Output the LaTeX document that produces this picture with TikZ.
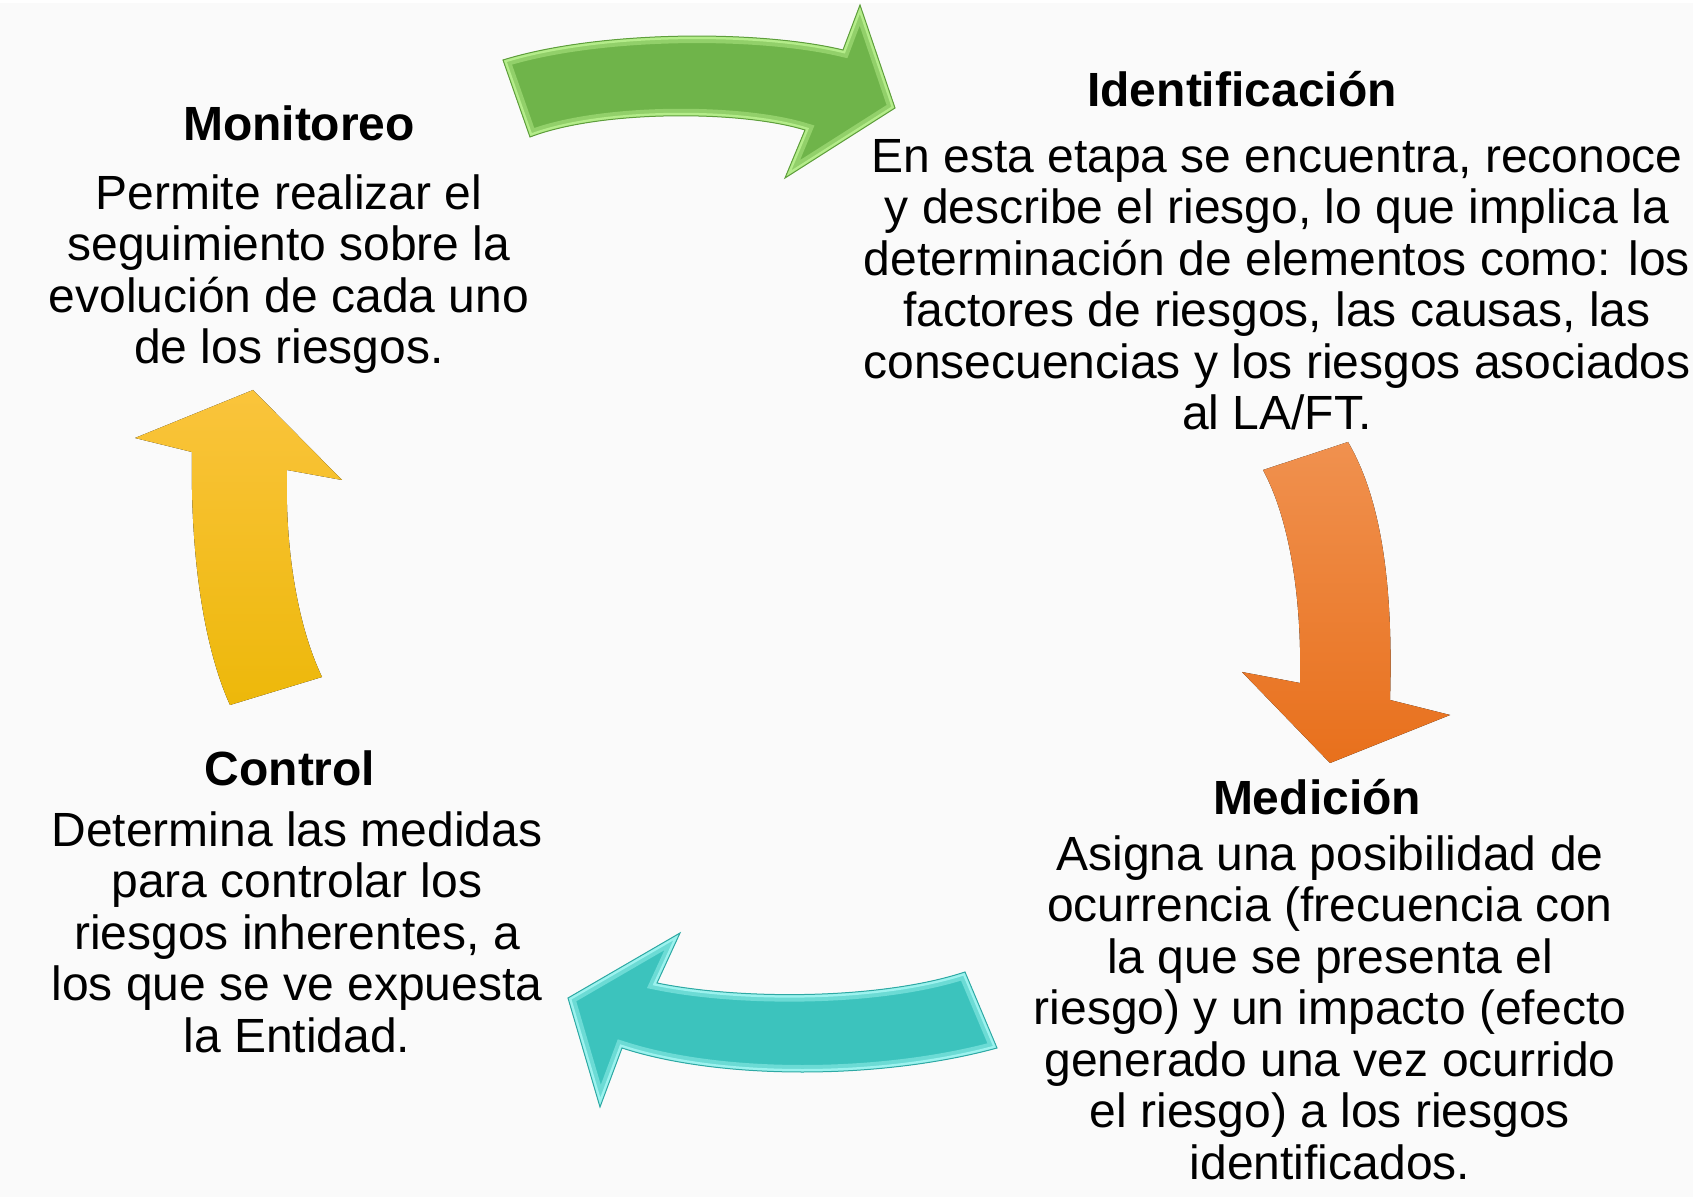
\documentclass[tikz,border=0pt]{standalone}
\usepackage{fontspec}
\setmainfont{Liberation Sans}
\usetikzlibrary{positioning}

\definecolor{paper}{HTML}{FAFAFA}
\definecolor{greenfill}{HTML}{6FB44A}
\definecolor{greenlight}{HTML}{B4EC8A}
\definecolor{greendark}{HTML}{5E9E3C}
\definecolor{orangetop}{HTML}{F0914F}
\definecolor{orangebot}{HTML}{E8701C}
\definecolor{tealfill}{HTML}{3CC3BD}
\definecolor{teallight}{HTML}{9CF2EE}
\definecolor{tealdark}{HTML}{2EA9A4}
\definecolor{yellowtop}{HTML}{FAC43C}
\definecolor{yellowbot}{HTML}{EDB80A}

\newcommand{\greenpath}{(503,60) .. controls (600,30) and (760,30) .. (843,50) -- (860,5) -- (895,108) -- (785,178) -- (805,130) .. controls (740,110) and (600,110) .. (530,137) -- cycle}
\newcommand{\orangepath}{(1263,470) -- (1348,442) .. controls (1385,505) and (1393,600) .. (1390,700) -- (1450,715) -- (1330,763) -- (1242,672) -- (1300,683) .. controls (1302,600) and (1290,520) .. (1263,470)}
\newcommand{\tealpath}{(965,972) .. controls (880,1000) and (740,1000) .. (657,983) -- (680,933) -- (568,998) -- (600,1107) -- (622,1048) .. controls (720,1080) and (880,1080) .. (997,1048) -- cycle}
\newcommand{\yellowpath}{(230,705) .. controls (205,650) and (190,560) .. (192,452) -- (135,438) -- (253,390) -- (342,480) -- (287,470) .. controls (285,540) and (295,620) .. (322,677) -- cycle}

\begin{document}
\begin{tikzpicture}[x=0.5pt, y=-0.5pt, inner sep=0pt,
    stagetitle/.style={font=\fontsize{24}{25.75}\selectfont\bfseries, anchor=base},
    stagetext/.style={font=\fontsize{24}{25.75}\selectfont, align=center}]
    \useasboundingbox (0,0) rectangle (1693,1197);
    \fill[paper] (0,0) rectangle (1693,1197);
    \fill[white] (0,0) rectangle (1693,3);

    \node (T1) [stagetitle] at (299,141) {Monitoreo};
    \node (T2) [stagetitle] at (1242,107) {Identificación};
    \node (T3) [stagetitle] at (1317,814) {Medición};
    \node (T4) [stagetitle] at (290,785) {Control};

    \node (D1) [stagetext, below=16pt of T1, xshift=-5pt] {Permite realizar el\\ seguimiento sobre la\\ evolución de cada uno\\ de los riesgos.};
    \node (D2) [stagetext, below=15.5pt of T2, xshift=17.5pt] {En esta etapa se encuentra, reconoce\\ y describe el riesgo, lo que implica la\\ determinación de elementos como: los\\ factores de riesgos, las causas, las\\ consecuencias y los riesgos asociados\\ al LA/FT.};
    \node (D3) [stagetext, below=10pt of T3, xshift=6.5pt] {Asigna una posibilidad de\\ ocurrencia (frecuencia con\\ la que se presenta el\\ riesgo) y un impacto (efecto\\ generado una vez ocurrido\\ el riesgo) a los riesgos\\ identificados.};
    \node (D4) [stagetext, below=12.5pt of T4, xshift=3.5pt] {Determina las medidas\\ para controlar los\\ riesgos inherentes, a\\ los que se ve expuesta\\ la Entidad.};

    % Create cycle arrows
    \begin{scope}
        \clip \greenpath;
        \fill[greenfill] \greenpath;
        \draw[greenlight!50!greenfill, line width=7pt] \greenpath;
        \draw[greenlight, line width=3pt] \greenpath;
    \end{scope}
    \draw[greendark, line width=0.5pt] \greenpath;

    \fill[top color=orangetop, bottom color=orangebot] \orangepath;

    \begin{scope}
        \clip \tealpath;
        \fill[tealfill] \tealpath;
        \draw[teallight!50!tealfill, line width=7pt] \tealpath;
        \draw[teallight, line width=3pt] \tealpath;
    \end{scope}
    \draw[tealdark, line width=0.5pt] \tealpath;

    \fill[top color=yellowtop, bottom color=yellowbot] \yellowpath;
\end{tikzpicture}
\end{document}
